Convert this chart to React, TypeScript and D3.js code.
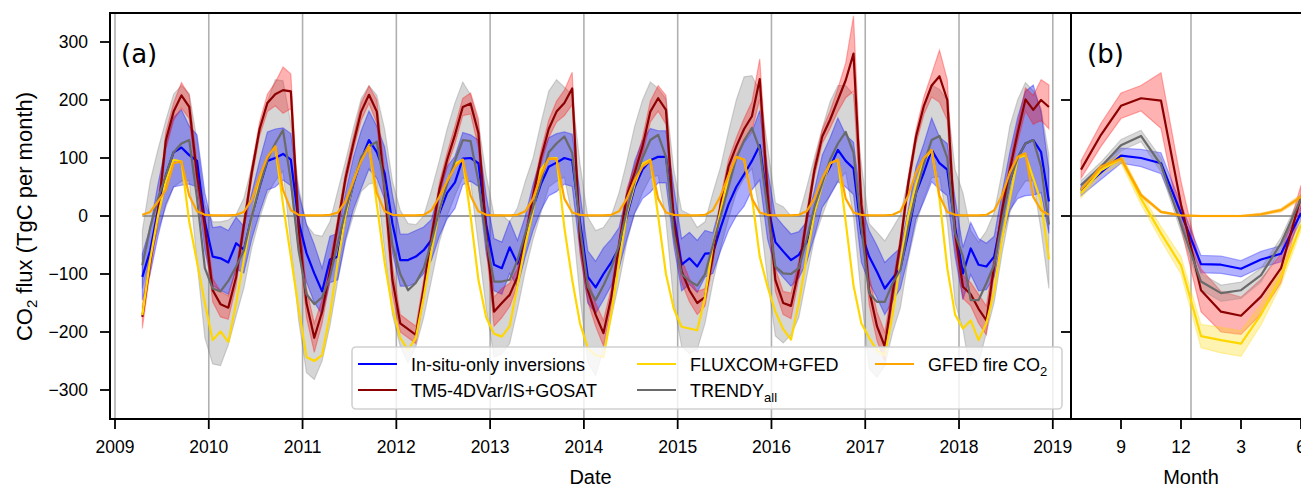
import React from 'react';
import * as d3 from 'd3';

// ---------- Monthly fluxes, April 2009 – December 2018 (TgC per month) ----------
const firstYear = 2009;
const firstMonth = 4; // April

const inSitu = [
  -105, -60, 10, 70, 110, 118, 105, 95, -10,
  -70, -73, -80, -47, -58, 0, 50, 95, 100, 107, 97, -10,
  -64, -99, -130, -75, -70, 0, 56, 97, 131, 110, 74, -13,
  -76, -76, -70, -59, -41, 5, 40, 58, 99, 100, 91, -15,
  -84, -90, -54, -82, -35, 15, 55, 85, 92, 100, 96, -10,
  -105, -123, -100, -80, -55, 0, 50, 80, 96, 102, 102, 0,
  -84, -73, -87, -65, -64, -20, 20, 50, 72, 95, 122, 20,
  -45, -61, -76, -67, -45, 5, 60, 85, 114, 95, 82, -30,
  -70, -96, -125, -107, -90, -30, 40, 75, 114, 91, 80, -20,
  -99, -56, -84, -87, -70, 0, 60, 100, 125, 131, 110, 25,
];
const inSituSpread = [
  40, 40, 45, 50, 60, 65, 50, 45, 50,
  50, 55, 55, 45, 40, 40, 45, 50, 50, 45, 45, 50,
  50, 50, 40, 40, 40, 40, 45, 50, 50, 45, 45, 50,
  45, 45, 45, 40, 35, 40, 45, 45, 45, 40, 40, 50,
  45, 45, 45, 40, 35, 40, 45, 50, 50, 45, 45, 50,
  45, 45, 45, 40, 35, 40, 45, 50, 55, 45, 45, 50,
  45, 45, 45, 40, 35, 40, 45, 50, 55, 50, 60, 60,
  45, 45, 45, 40, 35, 40, 45, 50, 55, 45, 45, 50,
  45, 45, 45, 40, 35, 40, 45, 50, 55, 45, 45, 50,
  45, 45, 45, 40, 35, 40, 50, 70, 90, 95, 70, 55,
];

const tm5 = [
  -174, -80, 5, 130, 180, 208, 188, 70, -18,
  -128, -152, -158, -105, -15, 75, 150, 195, 210, 217, 215, -20,
  -150, -210, -165, -95, -15, 65, 125, 180, 209, 180, 50, -110,
  -185, -195, -205, -125, -35, 45, 97, 140, 188, 194, 143, -30,
  -165, -150, -136, -105, -40, 35, 100, 150, 180, 195, 220, -40,
  -128, -170, -202, -140, -50, 35, 75, 120, 180, 203, 183, -10,
  -95, -128, -150, -140, -70, 20, 85, 120, 150, 172, 236, 40,
  -110, -150, -155, -93, -5, 79, 137, 166, 200, 234, 280, 20,
  -128, -190, -225, -133, -47, 56, 137, 190, 225, 241, 200, -30,
  -122, -135, -160, -180, -85, 10, 80, 143, 201, 183, 200, 188,
];
const tm5Spread = [
  20, 15, 15, 15, 15, 22, 20, 20, 20,
  20, 22, 20, 15, 12, 12, 12, 15, 20, 40, 30, 25,
  25, 25, 20, 15, 12, 12, 12, 15, 15, 20, 25, 25,
  15, 15, 15, 15, 12, 12, 12, 15, 15, 18, 25, 25,
  25, 25, 20, 15, 12, 12, 12, 15, 18, 22, 28, 25,
  20, 20, 22, 15, 12, 12, 12, 15, 18, 22, 25, 25,
  20, 20, 20, 15, 12, 12, 12, 15, 18, 25, 35, 30,
  20, 20, 22, 15, 12, 12, 12, 15, 20, 30, 65, 30,
  25, 25, 25, 15, 12, 12, 12, 15, 20, 45, 35, 25,
  20, 20, 25, 25, 15, 12, 12, 15, 20, 25, 35, 38,
];

const fluxcom = [
  -171, -75, 0, 60, 97, 94, -10, -80, -150,
  -214, -199, -217, -150, -75, 0, 60, 100, 120, 20, -70, -160,
  -243, -250, -240, -170, -80, 0, 60, 100, 122, 20, -80, -160,
  -210, -231, -210, -140, -60, 10, 60, 90, 97, 0, -110, -175,
  -203, -208, -190, -120, -50, 10, 80, 99, 100, -20, -110, -185,
  -228, -240, -243, -170, -80, 5, 55, 90, 97, 0, -100, -160,
  -191, -194, -197, -140, -50, 10, 68, 102, 97, 33, -70, -122,
  -165, -195, -213, -150, -70, 5, 55, 91, 97, -10, -120, -185,
  -210, -232, -240, -170, -80, 0, 55, 95, 114, 30, -90, -170,
  -194, -180, -214, -185, -130, -40, 30, 100, 105, 65, 25, -75,
];

const trendy = [
  -85, -20, 30, 70, 110, 125, 131, 30, -90,
  -125, -130, -112, -87, -59, 0, 51, 97, 125, 148, 60, -60,
  -135, -152, -140, -105, -47, 10, 56, 102, 120, 128, 50, -50,
  -100, -128, -115, -90, -45, 10, 55, 95, 131, 129, 60, -40,
  -113, -113, -110, -76, -30, 15, 60, 110, 125, 137, 109, -20,
  -122, -145, -120, -90, -50, 10, 60, 100, 131, 140, 102, -30,
  -100, -112, -120, -100, -50, 0, 50, 100, 130, 152, 115, 10,
  -87, -99, -100, -90, -41, 16, 56, 97, 125, 145, 109, -20,
  -133, -148, -148, -116, -93, -20, 40, 90, 131, 138, 100, -30,
  -70, -145, -145, -116, -84, -10, 60, 100, 125, 131, 85, -15,
];
const trendyUp = [
  60, 80, 85, 95, 100, 100, 80, 100, 110,
  115, 120, 105, 90, 90, 85, 95, 100, 110, 85, 100, 110,
  120, 120, 105, 95, 90, 85, 95, 100, 105, 80, 100, 110,
  110, 115, 100, 90, 90, 85, 95, 100, 100, 80, 100, 110,
  115, 115, 100, 90, 90, 85, 100, 105, 110, 85, 100, 110,
  120, 120, 100, 90, 90, 85, 95, 100, 100, 80, 100, 110,
  110, 115, 100, 90, 90, 85, 95, 100, 110, 90, 100, 110,
  110, 115, 100, 90, 90, 85, 95, 100, 100, 80, 100, 110,
  120, 120, 105, 95, 95, 85, 95, 100, 95, 80, 100, 110,
  110, 120, 100, 90, 90, 85, 95, 100, 105, 85, 100, 120,
];
const trendyDown = [
  40, 50, 55, 55, 60, 65, 70, 110, 120,
  130, 128, 110, 85, 65, 55, 55, 60, 65, 70, 110, 120,
  135, 130, 110, 85, 65, 55, 55, 60, 65, 70, 110, 120,
  125, 125, 110, 85, 65, 55, 55, 60, 65, 70, 110, 120,
  130, 125, 110, 85, 65, 55, 55, 60, 65, 70, 110, 120,
  130, 130, 110, 85, 65, 55, 55, 60, 65, 70, 110, 120,
  125, 125, 110, 85, 65, 55, 55, 60, 65, 70, 110, 120,
  120, 120, 105, 85, 65, 55, 55, 60, 65, 70, 110, 120,
  130, 130, 110, 85, 65, 55, 55, 60, 65, 70, 110, 120,
  125, 130, 110, 85, 65, 55, 55, 60, 65, 70, 110, 110,
];

const gfedFire = [
  2, 7, 25, 45, 91, 94, 35, 8, 2,
  1, 1, 1, 2, 7, 28, 68, 102, 120, 45, 10, 2,
  1, 1, 1, 2, 6, 25, 60, 95, 120, 40, 8, 2,
  1, 1, 1, 2, 10, 33, 60, 85, 97, 35, 8, 2,
  1, 1, 1, 2, 8, 30, 70, 99, 98, 30, 6, 2,
  1, 1, 1, 2, 8, 30, 62, 85, 95, 30, 6, 2,
  1, 1, 1, 2, 10, 35, 70, 102, 97, 30, 6, 2,
  1, 1, 1, 2, 8, 30, 65, 91, 97, 30, 6, 2,
  1, 1, 1, 2, 8, 35, 75, 100, 114, 35, 7, 2,
  1, 1, 1, 2, 10, 35, 75, 102, 108, 33, 10, 2,
];

// ---------- Mean seasonal cycle, July → June (13–18 = Jan–Jun) ----------
const cycleMonths = [7, 8, 9, 10, 11, 12, 13, 14, 15, 16, 17, 18];
const cycleInSitu = [45, 75, 104, 100, 91, 5, -83, -84, -91, -75, -65, 5];
const cycleInSituSpread = [10, 12, 13, 15, 18, 15, 15, 15, 14, 14, 14, 12];
const cycleTm5 = [80, 140, 190, 203, 199, 20, -128, -165, -172, -139, -90, 33];
const cycleTm5Spread = [15, 20, 22, 22, 48, 40, 37, 35, 32, 30, 25, 20];
const cycleFluxcom = [39, 79, 99, 30, -30, -85, -207, -214, -220, -170, -105, -15];
const cycleFluxcomSpread = [8, 8, 8, 10, 12, 15, 20, 22, 22, 18, 14, 10];
const cycleTrendy = [53, 85, 122, 138, 88, -15, -113, -133, -128, -102, -47, 30];
const cycleTrendySpread = [8, 8, 10, 10, 12, 12, 14, 14, 14, 12, 10, 8];
const cycleFire = [45, 85, 99, 36, 7, 1, 0, 0, 0, 3, 10, 33];
const cycleFireSpread = [3, 4, 5, 3, 2, 1, 1, 1, 1, 2, 3, 4];

// ---------- Axis ticks ----------
const yearTicks = [2009, 2010, 2011, 2012, 2013, 2014, 2015, 2016, 2017, 2018, 2019];
const fluxTicks = [-300, -200, -100, 0, 100, 200, 300];
const cycleFluxTicks = [-200, 0, 200];
const monthTicks = [9, 12, 15, 18];
const monthTickLabels = ['9', '12', '3', '6'];

const COLORS = {
  inSitu: '#0000ff',
  tm5: '#8b0000',
  tm5Band: '#ff0000',
  fluxcom: '#ffd700',
  trendy: '#6a6a6a',
  trendyBand: '#808080',
  fire: '#ffa500',
};

const SANS = "'Liberation Sans', Arial, Helvetica, sans-serif";
const DEJAVU = "'DejaVu Sans', sans-serif";

const PA = { left: 110, right: 1071, top: 13, bottom: 419 };
const PB = { left: 1071, right: 1311, top: 13, bottom: 419 };

const y = d3.scaleLinear().domain([-350, 350]).range([PA.bottom, PA.top]);
const xA = d3.scaleLinear().domain([2009, 2019]).range([115, 1052.8]);
const xB = d3.scaleLinear().domain([6.5, 18.5]).range([PB.left, PB.right]);

const dates = inSitu.map((_, i) => {
  const m = firstMonth - 1 + i;
  return firstYear + Math.floor(m / 12) + ((m % 12) + 0.5) / 12;
});

const fmt = (v: number) => (v < 0 ? '\u2212' + Math.abs(v) : String(v));

type Pt = [number, number, number];

function bandPath(xs: number[], lo: number[], hi: number[], x: (v: number) => number) {
  const pts: Pt[] = xs.map((t, i) => [t, lo[i], hi[i]]);
  return d3
    .area<Pt>()
    .x((d) => x(d[0]))
    .y0((d) => y(d[1]))
    .y1((d) => y(d[2]))(pts) as string;
}

function linePath(xs: number[], vals: number[], x: (v: number) => number) {
  const pts: [number, number][] = xs.map((t, i) => [t, vals[i]]);
  return d3
    .line<[number, number]>()
    .x((d) => x(d[0]))
    .y((d) => y(d[1]))(pts) as string;
}

function Band({ d, color, opacity }: { d: string; color: string; opacity: number }) {
  return (
    <path d={d} fill={color} fillOpacity={opacity} stroke={color} strokeOpacity={opacity} strokeWidth={1.2} />
  );
}

function Line({ d, color, width = 2.2 }: { d: string; color: string; width?: number }) {
  return <path d={d} fill="none" stroke={color} strokeWidth={width} strokeLinejoin="round" />;
}

const legendEntries = [
  { label: 'In-situ-only inversions', sub: '', color: COLORS.inSitu, col: 0, row: 0 },
  { label: 'TM5-4DVar/IS+GOSAT', sub: '', color: COLORS.tm5, col: 0, row: 1 },
  { label: 'FLUXCOM+GFED', sub: '', color: COLORS.fluxcom, col: 1, row: 0 },
  { label: 'TRENDY', sub: 'all', color: COLORS.trendy, col: 1, row: 1 },
  { label: 'GFED fire CO', sub: '2', color: COLORS.fire, col: 2, row: 0 },
];
const legendCols = [358, 637, 875];
const legendRows = [364, 390];

export default function App() {
  const sub = (a: number[], s: number[]) => a.map((v, i) => v - s[i]);
  const add = (a: number[], s: number[]) => a.map((v, i) => v + s[i]);

  const firstDate = dates[0];
  const lastDate = dates[dates.length - 1];

  return (
    <div style={{ position: 'absolute', left: 0, top: 0, width: 1301, height: 487, background: '#fff' }}>
      <svg width={1301} height={487} style={{ display: 'block' }} fontFamily={SANS}>
        <defs>
          <clipPath id="clipA">
            <rect x={PA.left} y={PA.top} width={PA.right - PA.left} height={PA.bottom - PA.top} />
          </clipPath>
          <clipPath id="clipB">
            <rect x={PB.left} y={PB.top} width={PB.right - PB.left} height={PB.bottom - PB.top} />
          </clipPath>
        </defs>

        {/* ---------- panel (a): monthly time series ---------- */}
        <g clipPath="url(#clipA)">
          {yearTicks.map((t) => (
            <line key={t} x1={xA(t)} x2={xA(t)} y1={PA.top} y2={PA.bottom} stroke="#b0b0b0" strokeWidth={1.6} />
          ))}
          <line x1={xA(firstDate)} x2={xA(lastDate)} y1={y(0)} y2={y(0)} stroke="#808080" strokeWidth={1.6} />

          <Band d={bandPath(dates, sub(trendy, trendyDown), add(trendy, trendyUp), xA)} color={COLORS.trendyBand} opacity={0.32} />
          <Band d={bandPath(dates, sub(inSitu, inSituSpread), add(inSitu, inSituSpread), xA)} color={COLORS.inSitu} opacity={0.33} />
          <Band d={bandPath(dates, sub(tm5, tm5Spread), add(tm5, tm5Spread), xA)} color={COLORS.tm5Band} opacity={0.3} />

          <Line d={linePath(dates, inSitu, xA)} color={COLORS.inSitu} />
          <Line d={linePath(dates, tm5, xA)} color={COLORS.tm5} />
          <Line d={linePath(dates, fluxcom, xA)} color={COLORS.fluxcom} />
          <Line d={linePath(dates, trendy, xA)} color={COLORS.trendy} />
          <Line d={linePath(dates, gfedFire, xA)} color={COLORS.fire} />
        </g>

        {/* ---------- panel (b): mean seasonal cycle ---------- */}
        <g clipPath="url(#clipB)">
          <line x1={xB(12.5)} x2={xB(12.5)} y1={PB.top} y2={PB.bottom} stroke="#b0b0b0" strokeWidth={1.6} />
          <line x1={PB.left} x2={PB.right} y1={y(0)} y2={y(0)} stroke="#808080" strokeWidth={1.6} />

          <Band d={bandPath(cycleMonths, sub(cycleInSitu, cycleInSituSpread), add(cycleInSitu, cycleInSituSpread), xB)} color={COLORS.inSitu} opacity={0.3} />
          <Band d={bandPath(cycleMonths, sub(cycleTm5, cycleTm5Spread), add(cycleTm5, cycleTm5Spread), xB)} color={COLORS.tm5Band} opacity={0.3} />
          <Band d={bandPath(cycleMonths, sub(cycleFluxcom, cycleFluxcomSpread), add(cycleFluxcom, cycleFluxcomSpread), xB)} color={COLORS.fluxcom} opacity={0.3} />
          <Band d={bandPath(cycleMonths, sub(cycleTrendy, cycleTrendySpread), add(cycleTrendy, cycleTrendySpread), xB)} color={COLORS.trendyBand} opacity={0.3} />
          <Band d={bandPath(cycleMonths, sub(cycleFire, cycleFireSpread), add(cycleFire, cycleFireSpread), xB)} color={COLORS.fire} opacity={0.3} />

          <Line d={linePath(cycleMonths, cycleInSitu, xB)} color={COLORS.inSitu} />
          <Line d={linePath(cycleMonths, cycleTm5, xB)} color={COLORS.tm5} />
          <Line d={linePath(cycleMonths, cycleFluxcom, xB)} color={COLORS.fluxcom} />
          <Line d={linePath(cycleMonths, cycleTrendy, xB)} color={COLORS.trendy} />
          <Line d={linePath(cycleMonths, cycleFire, xB)} color={COLORS.fire} />
        </g>

        {/* ---------- legend ---------- */}
        <g>
          <rect x={352} y={347} width={710} height={62} rx={4} fill="#ffffff" fillOpacity={0.8} stroke="#cccccc" strokeOpacity={0.9} strokeWidth={1.6} />
          {legendEntries.map((e) => {
            const lx = legendCols[e.col];
            const ly = legendRows[e.row];
            return (
              <g key={e.label}>
                <line x1={lx} x2={lx + 39} y1={ly} y2={ly} stroke={e.color} strokeWidth={2.2} />
                <text x={lx + 53} y={ly + 6.5} fontSize={18} fill="#000">
                  {e.label}
                  {e.sub && (
                    <tspan dy={5} fontSize={13}>
                      {e.sub}
                    </tspan>
                  )}
                </text>
              </g>
            );
          })}
        </g>

        {/* ---------- spines ---------- */}
        <g stroke="#000" strokeWidth={2} fill="none">
          <line x1={PA.left} x2={PB.right} y1={PA.top} y2={PA.top} />
          <line x1={PA.left} x2={PB.right} y1={PA.bottom} y2={PA.bottom} />
          <line x1={PA.left} x2={PA.left} y1={PA.top - 1} y2={PA.bottom + 1} />
          <line x1={PA.right} x2={PA.right} y1={PA.top - 1} y2={PA.bottom + 1} />
        </g>

        {/* ---------- panel (a) axes ---------- */}
        <g>
          {fluxTicks.map((v) => (
            <g key={v}>
              <line x1={PA.left - 10} x2={PA.left} y1={y(v)} y2={y(v)} stroke="#000" strokeWidth={1.8} />
              <text x={88} y={y(v)} dy="0.36em" textAnchor="end" fontSize={17.5}>
                {fmt(v)}
              </text>
            </g>
          ))}
          {yearTicks.map((t) => (
            <g key={t}>
              <line x1={xA(t)} x2={xA(t)} y1={PA.bottom} y2={PA.bottom + 10} stroke="#000" strokeWidth={1.8} />
              <text x={xA(t)} y={453} textAnchor="middle" fontSize={17.5}>
                {t}
              </text>
            </g>
          ))}
          <text x={(PA.left + PA.right) / 2} y={484} textAnchor="middle" fontSize={20}>
            Date
          </text>
          <text transform={`translate(32, 216.5) rotate(-90)`} textAnchor="middle" fontSize={22}>
            CO
            <tspan dy={5} fontSize={15}>
              2
            </tspan>
            <tspan dy={-5}> flux (TgC per month)</tspan>
          </text>
          <text x={121} y={63} fontSize={26} fontFamily={DEJAVU}>
            (a)
          </text>
        </g>

        {/* ---------- panel (b) axes ---------- */}
        <g>
          {cycleFluxTicks.map((v) => (
            <line key={v} x1={PB.left - 10} x2={PB.left} y1={y(v)} y2={y(v)} stroke="#000" strokeWidth={1.8} />
          ))}
          {monthTicks.map((m, i) => (
            <g key={m}>
              <line x1={xB(m)} x2={xB(m)} y1={PB.bottom} y2={PB.bottom + 10} stroke="#000" strokeWidth={1.8} />
              <text x={xB(m)} y={453} textAnchor="middle" fontSize={17.5}>
                {monthTickLabels[i]}
              </text>
            </g>
          ))}
          <text x={(PB.left + PB.right) / 2} y={484} textAnchor="middle" fontSize={20}>
            Month
          </text>
          <text x={1087} y={63} fontSize={26} fontFamily={DEJAVU}>
            (b)
          </text>
        </g>
      </svg>
    </div>
  );
}
